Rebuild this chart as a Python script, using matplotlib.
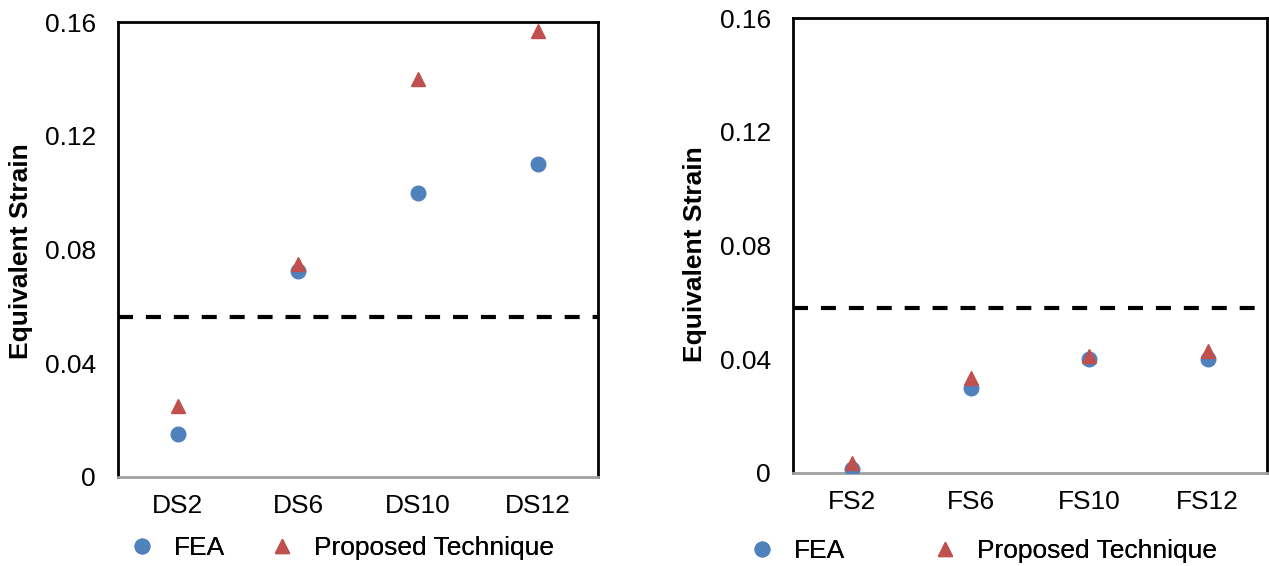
import numpy as np
import matplotlib
matplotlib.use('Agg')
from matplotlib import pyplot as plt
from matplotlib.lines import Line2D

plt.rcParams['font.family'] = ['Liberation Sans', 'DejaVu Sans']

# 数据
ds_labels = ['DS2', 'DS6', 'DS10', 'DS12']
ds_fea = [0.015, 0.0725, 0.100, 0.110]
ds_prop = [0.025, 0.075, 0.140, 0.157]
ds_limit = 0.0563

fs_labels = ['FS2', 'FS6', 'FS10', 'FS12']
fs_fea = [0.0014, 0.030, 0.040, 0.040]
fs_prop = [0.0035, 0.0335, 0.041, 0.043]
fs_limit = 0.058

series_names = ['FEA', 'Proposed Technique']

blue = '#4F81BD'
red = '#C0504D'

W, H = 1269, 566
fig = plt.figure(figsize=(W / 100, H / 100), dpi=100)
ax1 = fig.add_axes([118 / W, (H - 477) / H, 480 / W, 455 / H])
ax2 = fig.add_axes([793 / W, (H - 473) / H, 474 / W, 455 / H])


def draw(ax, labels, fea, prop, limit, ylab_xy, leg_x, leg_y):
    x = np.arange(len(labels)) + 0.5
    ax.plot(x, fea, 'o', color=blue, markersize=10.5, zorder=3)
    ax.plot(x, prop, '^', color=red, markersize=10.5, zorder=3)
    ax.axhline(limit, color='black', lw=3, ls=(0, (3.6, 3.1)), zorder=2)
    ax.set_xlim(0, 4)
    ax.set_ylim(0, 0.16)
    ax.set_yticks([0, 0.04, 0.08, 0.12, 0.16])
    ax.set_yticklabels(['0', '0.04', '0.08', '0.12', '0.16'])
    ax.set_xticks(x)
    ax.set_xticklabels(labels)
    ax.tick_params(length=0, labelsize=19)
    ax.tick_params(axis='y', pad=16)
    ax.tick_params(axis='x', pad=12)
    for s in ['left', 'right', 'top']:
        ax.spines[s].set_linewidth(2)
        ax.spines[s].set_color('black')
    ax.spines['bottom'].set_color('#A0A0A0')
    ax.spines['bottom'].set_linewidth(2)
    ax.set_ylabel('Equivalent Strain', fontsize=19, fontweight='bold')
    ax.yaxis.set_label_coords(*ylab_xy)
    # 图例：每一项单独放置，位置按原图
    handles = [Line2D([], [], ls='none', marker='o', color=blue, markersize=10.5),
               Line2D([], [], ls='none', marker='^', color=red, markersize=10.5)]
    for h, name, lx in zip(handles, series_names, leg_x):
        leg = fig.legend([h], [name], loc='center left',
                         bbox_to_anchor=(lx / W, 1 - leg_y / H),
                         frameon=False, fontsize=19, handlelength=0.8,
                         handletextpad=0.81, borderpad=0, borderaxespad=0)
        fig.add_artist(leg)


draw(ax1, ds_labels, ds_fea, ds_prop, ds_limit, (-0.177, 0.496), [131.5, 271.5], 548)
draw(ax2, fs_labels, fs_fea, fs_prop, fs_limit, (-0.181, 0.482), [751.5, 934.5], 551)

plt.savefig('out.png', dpi=100)
